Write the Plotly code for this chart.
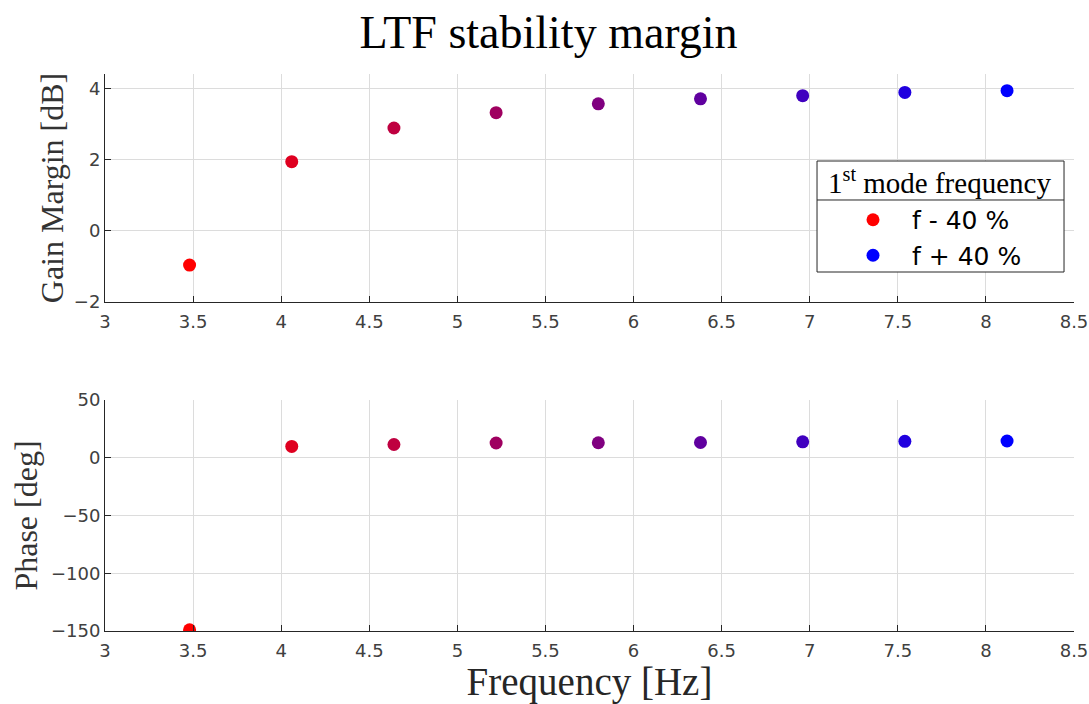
import plotly.graph_objects as go
from plotly.subplots import make_subplots

freq = [3.48, 4.06, 4.64, 5.22, 5.80, 6.38, 6.96, 7.54, 8.12]
gain_margin = [-0.96, 1.95, 2.90, 3.33, 3.58, 3.72, 3.81, 3.90, 3.95]
phase = [-149.0, 9.8, 11.5, 12.8, 13.0, 13.2, 13.8, 14.2, 14.5]
legend_names = ["f - 40 %", "f + 40 %"]
legend_title = "1<sup>st</sup> mode frequency"

n = len(freq)
colors = []
for i in range(n):
    t = i / (n - 1)
    colors.append("rgb(%d,0,%d)" % (round(255 * (1 - t)), round(255 * t)))

fig = make_subplots(rows=2, cols=1, shared_xaxes=False)

for i in range(n):
    show = i == 0 or i == n - 1
    name = legend_names[0] if i == 0 else legend_names[1]
    fig.add_trace(go.Scatter(x=[freq[i]], y=[gain_margin[i]], mode="markers",
                             marker=dict(color=colors[i], size=13, symbol="circle"),
                             name=name, showlegend=show), row=1, col=1)
    fig.add_trace(go.Scatter(x=[freq[i]], y=[phase[i]], mode="markers",
                             marker=dict(color=colors[i], size=13, symbol="circle"),
                             showlegend=False), row=2, col=1)

serif = "Liberation Serif, Times New Roman, serif"
sans = "DejaVu Sans, sans-serif"
axcol = "#262626"
gridcol = "#dcdcdc"

common_x = dict(range=[3, 8.5], dtick=0.5, tick0=3, showline=True, linecolor=axcol, linewidth=1,
                ticks="inside", ticklen=6, tickcolor=axcol, showgrid=True, gridcolor=gridcol,
                zeroline=False, automargin=False, ticklabelstandoff=3,
                tickfont=dict(family=sans, size=18, color="#404040"))
common_y = dict(showline=True, linecolor=axcol, linewidth=1, ticks="inside", ticklen=6,
                tickcolor=axcol, showgrid=True, gridcolor=gridcol, zeroline=False, automargin=False,
                tickfont=dict(family=sans, size=18, color="#404040"))

fig.update_xaxes(domain=[0, 1], **common_x)
fig.update_xaxes(row=2, col=1, title=dict(text="Frequency [Hz]", font=dict(family=serif, size=39, color=axcol), standoff=9))
fig.update_yaxes(row=1, col=1, domain=[0.5907, 1], range=[-2, 4.42], dtick=2, tick0=0,
                 title=dict(text="Gain Margin [dB]", font=dict(family=serif, size=32, color="#333333"), standoff=0), **common_y)
fig.update_yaxes(row=2, col=1, domain=[0, 0.4147], range=[-150, 50], dtick=50, tick0=0,
                 title=dict(text="Phase [deg]", font=dict(family=serif, size=32, color="#333333"), standoff=6), **common_y)

fig.update_layout(
    width=1081, height=696,
    margin=dict(l=97, r=15, t=66, b=73, autoexpand=False),
    paper_bgcolor="white", plot_bgcolor="white",
    title=dict(text="LTF stability margin", x=0.5, xanchor="center", y=0.966, yanchor="middle",
               font=dict(family=serif, size=46, color="black")),
    legend=dict(x=(834 - 105) / 969, xanchor="left", y=0.7792, yanchor="top",
                bgcolor="rgba(0,0,0,0)", borderwidth=0, itemwidth=68,
                font=dict(family=sans, size=25, color="black")),
    showlegend=True,
)

# legend frame, separator and title
fig.add_shape(type="rect", xref="paper", yref="paper", x0=0.7348, x1=0.9897, y0=0.6445, y1=0.8438,
              line=dict(color="#262626", width=1), fillcolor="white", layer="above")
fig.add_shape(type="line", xref="paper", yref="paper", x0=0.7348, x1=0.9897, y0=0.7738, y1=0.7738,
              line=dict(color="#262626", width=1), layer="above")
fig.add_annotation(xref="paper", yref="paper", x=0.8617, y=0.8079, text=legend_title, showarrow=False,
                   xanchor="center", yanchor="middle", font=dict(family=serif, size=29, color="black"))

fig.write_html("out.html", post_script="document.body.style.margin='8px 0 0 8px';document.body.style.overflow='hidden';")
